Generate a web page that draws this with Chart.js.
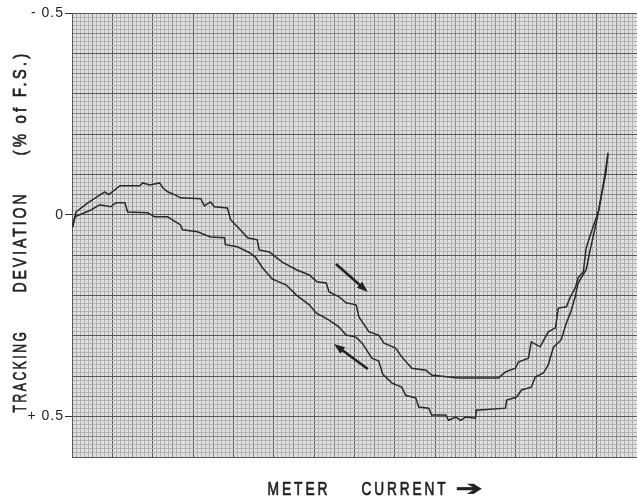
<!DOCTYPE html>
<html>
<head>
<meta charset="utf-8">
<script src="https://cdn.jsdelivr.net/npm/chart.js@4/dist/chart.umd.min.js"></script>
<style>
  html, body { margin: 0; padding: 0; background: #fff; }
  #wrap { width: 637px; height: 501px; }
</style>
</head>
<body>
<div id="wrap"><canvas id="grafico"></canvas></div>
<script>
// datos (x en divisiones mayores, y en % de F.S.)
const subidaX = [0.02, 0.10, 0.40, 0.81, 0.91, 1.19, 1.68, 1.75, 1.93, 2.17, 2.25, 2.37, 2.54, 2.69, 3.19, 3.28, 3.43, 3.53, 3.85, 3.93,
  4.17, 4.35, 4.59, 4.64, 4.89, 5.21, 5.56, 5.88, 6.07, 6.30, 6.37, 6.62, 6.79, 7.04, 7.11, 7.36, 7.60, 7.73, 8.02, 8.17,
  8.42, 8.77, 8.91, 9.33, 9.58, 10.57, 10.74, 10.99, 11.06, 11.31, 11.38, 11.60, 11.80, 11.98, 12.05, 12.25, 12.35, 12.47, 12.54, 12.67,
  12.74, 12.86, 13.04, 13.11, 13.23, 13.28];
const subidaY = [0.030, -0.007, -0.030, -0.057, -0.050, -0.072, -0.072, -0.079, -0.074, -0.079, -0.067, -0.057, -0.050, -0.042, -0.040, -0.022, -0.032, -0.020, -0.017, 0.012,
  0.037, 0.057, 0.062, 0.087, 0.092, 0.117, 0.136, 0.149, 0.166, 0.169, 0.191, 0.203, 0.218, 0.223, 0.253, 0.290, 0.298, 0.318, 0.330, 0.352,
  0.380, 0.385, 0.397, 0.402, 0.404, 0.404, 0.389, 0.380, 0.365, 0.355, 0.315, 0.327, 0.290, 0.280, 0.231, 0.228, 0.203, 0.181, 0.156, 0.141,
  0.082, 0.045, -0.007, -0.045, -0.104, -0.154];

const bajadaX = [0.00, 0.07, 0.47, 0.69, 0.96, 1.09, 1.31, 1.38, 1.88, 2.05, 2.37, 2.69, 2.74, 3.11, 3.43, 3.78, 3.80, 4.10, 4.40, 4.54,
  4.72, 4.96, 5.31, 5.56, 5.88, 6.05, 6.37, 6.62, 6.79, 7.04, 7.19, 7.43, 7.60, 7.70, 7.93, 8.17, 8.27, 8.52, 8.59, 8.84,
  8.91, 9.26, 9.33, 9.51, 9.63, 9.75, 10.00, 10.02, 10.74, 10.77, 11.01, 11.14, 11.38, 11.48, 11.68, 11.80, 11.93, 12.12, 12.25, 12.35,
  12.47, 12.54, 12.74, 12.84, 12.99, 13.09, 13.21, 13.28];
const bajadaY = [0.032, 0.005, -0.012, -0.025, -0.020, -0.030, -0.030, -0.007, -0.005, 0.005, 0.005, 0.025, 0.037, 0.042, 0.055, 0.057, 0.074, 0.079, 0.094, 0.104,
  0.131, 0.159, 0.174, 0.199, 0.223, 0.243, 0.261, 0.278, 0.298, 0.303, 0.318, 0.355, 0.362, 0.395, 0.417, 0.427, 0.447, 0.454, 0.476, 0.479,
  0.496, 0.496, 0.509, 0.501, 0.509, 0.501, 0.504, 0.484, 0.479, 0.459, 0.452, 0.434, 0.427, 0.402, 0.392, 0.372, 0.328, 0.310, 0.268, 0.243,
  0.203, 0.169, 0.136, 0.087, 0.020, -0.030, -0.104, -0.149];

// etiquetas del eje Y
const ticksY = [-0.5, 0, 0.5];
const etiquetasY = ['- 0.5', '0', '+ 0.5'];

// flechas de sentido: [x cola, y cola, x punta, y punta]
const flechaIda = [6.54, 0.122, 7.33, 0.191];
const flechaVuelta = [7.33, 0.382, 6.49, 0.320];

const FUENTE = "'Liberation Sans', Arial, sans-serif";

function puntos(xs, ys) {
    return xs.map((x, i) => ({ x: x, y: ys[i] }));
}

function colorGrid(ctx) {
    if (ctx.index % 10 === 0) return '#585858';
    if (ctx.index % 5 === 0) return '#858585';
    return '#b2b2b2';
}

function esTick(v) {
    return ticksY.findIndex(t => Math.abs(t - v) < 1e-6);
}

// texto estrecho: se comprime en horizontal hasta el ancho pedido
function textoEstrecho(ctx, texto, ancho) {
    const w = ctx.measureText(texto).width;
    ctx.save();
    ctx.scale(ancho / w, 1);
    ctx.fillText(texto, 0, 0);
    ctx.lineWidth = 0.7;
    ctx.strokeText(texto, 0, 0);
    ctx.restore();
}

// papel milimetrado, textos y flechas
const papel = {
    id: 'papel',
    beforeDraw(chart) {
        const { ctx, chartArea: a } = chart;
        ctx.save();
        ctx.fillStyle = '#e0e0e0';
        ctx.fillRect(a.left, a.top, a.right - a.left, a.bottom - a.top);
        ctx.restore();
        ctx.letterSpacing = '1px';
    },
    afterDraw(chart) {
        const { ctx, scales } = chart;
        const sx = scales.x, sy = scales.y;
        ctx.save();
        ctx.fillStyle = '#222';
        ctx.strokeStyle = '#222';

        // flechas
        [flechaIda, flechaVuelta].forEach(f => {
            const x1 = sx.getPixelForValue(f[0]), y1 = sy.getPixelForValue(f[1]);
            const x2 = sx.getPixelForValue(f[2]), y2 = sy.getPixelForValue(f[3]);
            const ang = Math.atan2(y2 - y1, x2 - x1);
            ctx.lineWidth = 2.6;
            ctx.beginPath();
            ctx.moveTo(x1, y1);
            ctx.lineTo(x2 - 8 * Math.cos(ang), y2 - 8 * Math.sin(ang));
            ctx.stroke();
            ctx.beginPath();
            ctx.moveTo(x2, y2);
            ctx.lineTo(x2 - 11 * Math.cos(ang) + 4 * Math.sin(ang), y2 - 11 * Math.sin(ang) - 4 * Math.cos(ang));
            ctx.lineTo(x2 - 11 * Math.cos(ang) - 4 * Math.sin(ang), y2 - 11 * Math.sin(ang) + 4 * Math.cos(ang));
            ctx.closePath();
            ctx.fill();
        });

        ctx.textAlign = 'center';
        ctx.textBaseline = 'middle';
        ctx.letterSpacing = '4px';

        // titulo eje Y (texto, centro y, ancho)
        ctx.font = '19px ' + FUENTE;
        [['TRACKING', 371, 83], ['DEVIATION', 242, 101], ['(% of F.S.)', 103, 105]].forEach(p => {
            ctx.save();
            ctx.translate(21, p[1]);
            ctx.rotate(-Math.PI / 2);
            textoEstrecho(ctx, p[0], p[2]);
            ctx.restore();
        });

        // titulo eje X
        [['METER', 299, 63], ['CURRENT', 405, 87]].forEach(p => {
            ctx.save();
            ctx.translate(p[1], 490);
            textoEstrecho(ctx, p[0], p[2]);
            ctx.restore();
        });
        ctx.letterSpacing = '0px';
        ctx.font = 'bold 20px DejaVu Sans';
        ctx.save();
        ctx.translate(469, 490);
        textoEstrecho(ctx, '\u2794', 27);
        ctx.restore();
        ctx.restore();
        ctx.letterSpacing = '0px';
    }
};

new Chart(document.getElementById('grafico'), {
    type: 'scatter',
    data: {
        datasets: [
            {
                label: 'Corriente creciente',
                data: puntos(subidaX, subidaY),
                showLine: true,
                borderColor: '#2a2a2a',
                borderWidth: 1.5,
                pointRadius: 0,
                tension: 0
            },
            {
                label: 'Corriente decreciente',
                data: puntos(bajadaX, bajadaY),
                showLine: true,
                borderColor: '#2a2a2a',
                borderWidth: 1.5,
                pointRadius: 0,
                tension: 0
            }
        ]
    },
    options: {
        responsive: true,
        maintainAspectRatio: false,
        animation: false,
        layout: { padding: { top: 13, right: 0, bottom: 44, left: 0 } },
        plugins: {
            legend: { display: false },
            tooltip: { enabled: false }
        },
        scales: {
            x: {
                type: 'linear',
                min: 0,
                max: 14,
                ticks: { stepSize: 0.1, display: false, autoSkip: false },
                grid: { color: colorGrid, lineWidth: 1, drawTicks: false },
                border: { display: false },
                afterFit(scale) { scale.height = 0; }
            },
            y: {
                type: 'linear',
                reverse: true,
                min: -0.5,
                max: 0.6,
                ticks: {
                    stepSize: 0.01,
                    autoSkip: false,
                    padding: 1,
                    color: '#222',
                    font: { family: FUENTE, size: 14 },
                    callback(v) {
                        const i = esTick(v);
                        return i >= 0 ? etiquetasY[i] : '';
                    }
                },
                grid: {
                    color: colorGrid,
                    lineWidth: 1,
                    tickLength: 7,
                    tickColor(ctx) {
                        return esTick(ctx.tick.value) >= 0 ? '#333' : 'rgba(0,0,0,0)';
                    }
                },
                border: { display: true, color: '#585858' },
                afterFit(scale) { scale.width = 72; }
            }
        }
    },
    plugins: [papel]
});
</script>
</body>
</html>
